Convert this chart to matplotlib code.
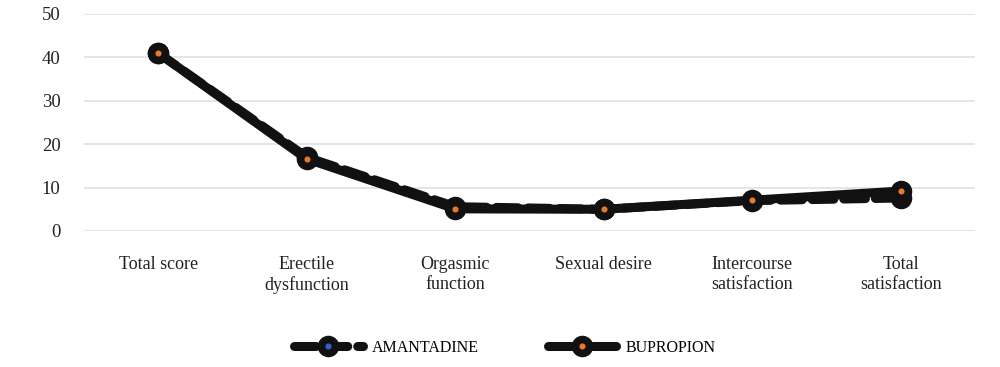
import matplotlib
matplotlib.use('Agg')
import matplotlib.pyplot as plt

plt.rcParams['font.family'] = ['Liberation Serif', 'DejaVu Serif']

categories = ["Total score", "Erectile\ndysfunction", "Orgasmic\nfunction",
              "Sexual desire", "Intercourse\nsatisfaction", "Total\nsatisfaction"]
amantadine = [41.0, 17.0, 5.6, 5.0, 7.0, 7.6]
bupropion = [41.0, 16.6, 5.1, 5.0, 7.1, 9.2]
yticks = [0, 10, 20, 30, 40, 50]

fig = plt.figure(figsize=(10, 3.67), dpi=100)
ax = fig.add_axes([0.084, 0.3706, 0.891, 0.5913])

x = list(range(len(categories)))
ax.plot(x, amantadine, color='#111111', lw=6.5, ls=(0, (2.4, 1.1)),
        dash_capstyle='round', marker='o', ms=10, mew=5.5, mfc='#2f5fd0',
        mec='#111111', label='AMANTADINE', clip_on=False, zorder=3)
ax.plot(x, bupropion, color='#111111', lw=6.5, solid_capstyle='round',
        marker='o', ms=10, mew=5.5, mfc='#e8782c', mec='#111111',
        label='BUPROPION', clip_on=False, zorder=4)

ax.set_xlim(-0.5, len(categories) - 0.5)
ax.set_ylim(0, 50)
ax.set_yticks(yticks)
ax.set_xticks(x)
ax.set_xticklabels(categories, fontsize=13, color='#222222', linespacing=1.25)
ax.tick_params(axis='y', labelsize=13.5, colors='#222222', length=0, pad=17)
ax.tick_params(axis='x', length=0, pad=18)
ax.grid(axis='y', color='#e4e6e6', lw=1.4)
ax.set_axisbelow(True)
for s in ax.spines.values():
    s.set_visible(False)

fig.legend(loc='center', bbox_to_anchor=(0.505, 0.052), ncol=2, frameon=False,
           fontsize=11.5, handlelength=4.3, columnspacing=4.3, handletextpad=0.6)

fig.savefig('out.png')
